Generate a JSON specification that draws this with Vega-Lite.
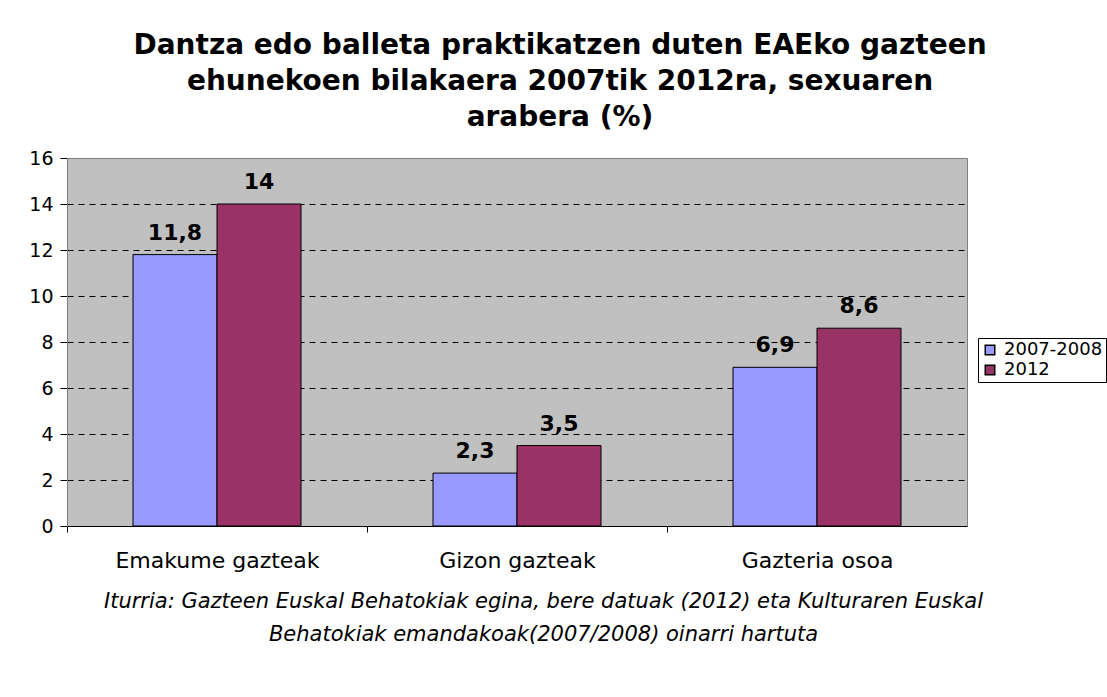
{
  "$schema": "https://vega.github.io/schema/vega-lite/v6.json",
  "width": 900,
  "height": 368,
  "autosize": "none",
  "padding": {"left": 67, "top": 158, "right": 140, "bottom": 171},
  "background": "white",
  "config": {
    "font": "DejaVu Sans",
    "locale": {"number": {"decimal": ",", "thousands": ".", "grouping": [3], "currency": ["", " €"]}},
    "view": {"fill": "#C0C0C0", "stroke": "#808080", "strokeWidth": 1}
  },
  "title": {
    "text": ["Dantza edo balleta praktikatzen duten EAEko gazteen", "ehunekoen bilakaera 2007tik 2012ra, sexuaren", "arabera (%)"],
    "font": "DejaVu Sans",
    "fontSize": 28,
    "fontWeight": "bold",
    "color": "black",
    "anchor": "middle",
    "frame": "group",
    "dx": 43,
    "lineHeight": 36,
    "offset": 17
  },
  "data": {
    "values": [
      {"taldea": "Emakume gazteak", "urtea": "2007-2008", "balioa": 11.8},
      {"taldea": "Emakume gazteak", "urtea": "2012", "balioa": 14},
      {"taldea": "Gizon gazteak", "urtea": "2007-2008", "balioa": 2.3},
      {"taldea": "Gizon gazteak", "urtea": "2012", "balioa": 3.5},
      {"taldea": "Gazteria osoa", "urtea": "2007-2008", "balioa": 6.9},
      {"taldea": "Gazteria osoa", "urtea": "2012", "balioa": 8.6}
    ]
  },
  "encoding": {
    "x": {
      "field": "taldea",
      "type": "nominal",
      "sort": ["Emakume gazteak", "Gizon gazteak", "Gazteria osoa"],
      "scale": {"paddingInner": 0.44, "paddingOuter": 0.22},
      "axis": {
        "title": ["Iturria: Gazteen Euskal Behatokiak egina, bere datuak (2012) eta Kulturaren Euskal", "Behatokiak emandakoak(2007/2008) oinarri hartuta"],
        "titleFont": "DejaVu Sans",
        "titleFontSize": 21,
        "titleFontStyle": "italic",
        "titleFontWeight": "normal",
        "titleColor": "black",
        "titleLineHeight": 33,
        "titleX": 476,
        "titleY": 81,
        "titleAnchor": "middle",
        "titleAlign": "center",
        "titleBaseline": "alphabetic",
        "titleLimit": 0,
        "labelAngle": 0,
        "labelFontSize": 22,
        "labelLimit": 0,
        "labelColor": "black",
        "labelPadding": 18,
        "tickOffset": -150,
        "labelOffset": 150,
        "tickSize": 6,
        "tickColor": "black",
        "domainColor": "black",
        "grid": false
      }
    },
    "xOffset": {"field": "urtea", "type": "nominal", "sort": ["2007-2008", "2012"]},
    "y": {
      "field": "balioa",
      "type": "quantitative",
      "scale": {"domain": [0, 16], "nice": false},
      "axis": {
        "title": null,
        "values": [0, 2, 4, 6, 8, 10, 12, 14, 16],
        "labelFontSize": 19,
        "labelColor": "black",
        "labelPadding": 7,
        "tickSize": 7,
        "tickColor": "black",
        "domainColor": "#808080",
        "grid": true,
        "gridColor": "black",
        "gridDash": [6, 5],
        "gridOpacity": {"condition": {"test": "datum.value == 0 || datum.value == 16", "value": 0}, "value": 1}
      }
    }
  },
  "layer": [
    {
      "mark": {"type": "bar", "stroke": "black", "strokeWidth": 1},
      "encoding": {
        "color": {
          "field": "urtea",
          "type": "nominal",
          "sort": ["2007-2008", "2012"],
          "scale": {"domain": ["2007-2008", "2012"], "range": ["#9999FF", "#993366"]},
          "legend": {
            "title": null,
            "orient": "none",
            "legendX": 911,
            "legendY": 180,
            "strokeColor": "black",
            "fillColor": "white",
            "padding": 3,
            "symbolType": "square",
            "symbolSize": 90,
            "symbolStrokeColor": "black",
            "symbolStrokeWidth": 1.5,
            "labelFontSize": 18,
            "labelColor": "black",
            "rowPadding": 2,
            "labelOffset": 5
          }
        }
      }
    },
    {
      "mark": {"type": "text", "baseline": "alphabetic", "dy": -15, "fontSize": 22, "fontWeight": "bold", "color": "black"},
      "encoding": {
        "text": {"field": "balioa", "type": "quantitative", "format": ".1~f"}
      }
    }
  ]
}
